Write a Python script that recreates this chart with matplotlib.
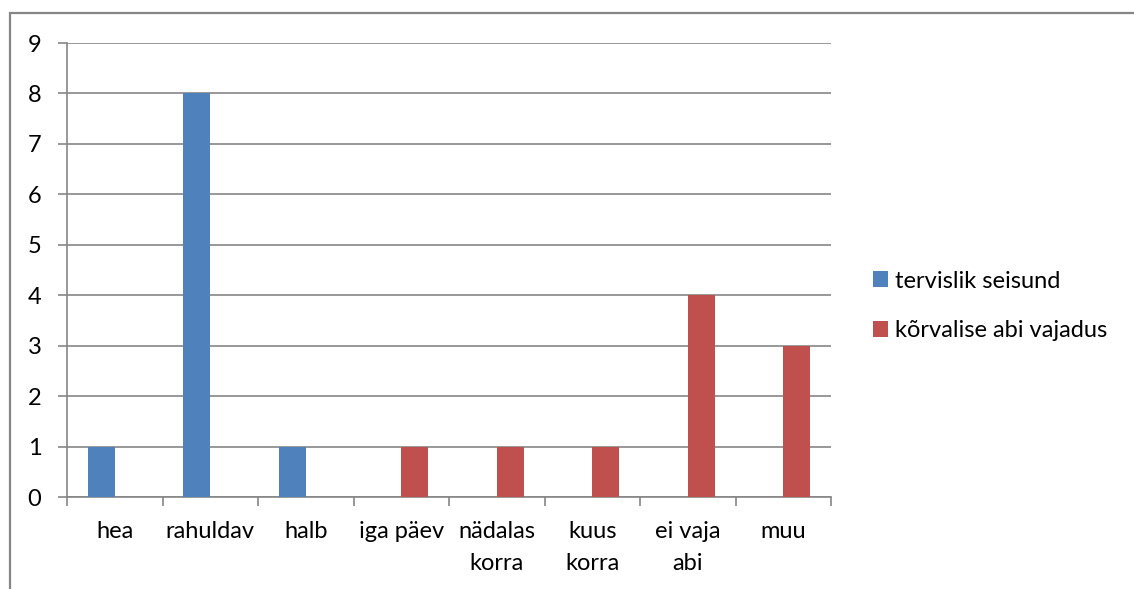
import numpy as np
import matplotlib.pyplot as plt
from matplotlib.patches import Rectangle

categories = ['hea', 'rahuldav', 'halb', 'iga päev', 'nädalas\nkorra',
              'kuus\nkorra', 'ei vaja\nabi', 'muu']
tervislik = [1, 8, 1, 0, 0, 0, 0, 0]
korvalise = [0, 0, 0, 1, 1, 1, 4, 3]
series_names = ['tervislik seisund', 'kõrvalise abi vajadus']

BLUE = '#4F81BD'
RED = '#C0504D'
GRID = '#868686'

plt.rcParams['font.family'] = ['Lato', 'DejaVu Sans']
plt.rcParams['font.size'] = 17

fig = plt.figure(figsize=(11.34, 5.89), dpi=100)
ax = fig.add_axes([67 / 1134, 1 - 497 / 589, (831 - 67) / 1134, (497 - 43) / 589])

x = np.arange(len(categories))
w = 0.283
ax.bar(x - w / 2, tervislik, w, color=BLUE, label=series_names[0], zorder=3)
ax.bar(x + w / 2, korvalise, w, color=RED, label=series_names[1], zorder=3)

ax.set_xlim(-0.5, len(categories) - 0.5)
ax.set_ylim(0, 9)
ax.set_yticks(range(10))
ax.yaxis.grid(True, color=GRID, linewidth=1.2, zorder=0)
ax.tick_params(axis='y', length=6.5, width=1.2, color=GRID, pad=12, labelsize=17)

ax.set_xticks(x)
ax.set_xticklabels(categories, linespacing=1.65)
ax.set_xticks(np.arange(-0.5, len(categories)), minor=True)
ax.tick_params(axis='x', which='major', length=0, pad=17, labelsize=17)
ax.tick_params(axis='x', which='minor', length=6.5, width=1.2, color=GRID)

for side in ['top', 'right']:
    ax.spines[side].set_visible(False)
for side in ['left', 'bottom']:
    ax.spines[side].set_color(GRID)
    ax.spines[side].set_linewidth(1.2)

fig.legend(loc='center left', bbox_to_anchor=(873 / 1134, 1 - 306 / 589),
           frameon=False, fontsize=17, handlelength=0.65, handleheight=0.65,
           handletextpad=0.3, labelspacing=1.22, borderaxespad=0, borderpad=0)

fig.patches.append(Rectangle((10 / 1134, -0.05), 1.1, 1.05 - 13 / 589,
                             transform=fig.transFigure, fill=False,
                             edgecolor=GRID, linewidth=1.6))

fig.savefig('out.png', dpi=100)
